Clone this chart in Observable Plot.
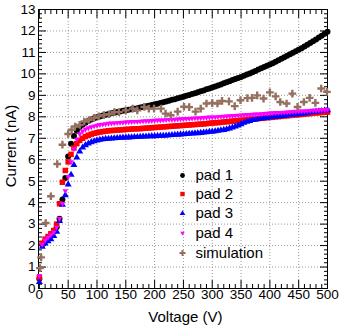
<!DOCTYPE html>
<html><head><meta charset="utf-8">
<script src="https://cdn.jsdelivr.net/npm/d3@7"></script>
<script src="https://cdn.jsdelivr.net/npm/@observablehq/plot@0.6"></script>
<style>body{margin:0;background:#fff;} #chart{width:339px;height:329px;}</style>
</head><body><div id="chart"></div>
<script>
// Pad measurements: voltage grid (V) and currents (nA)
const voltage = [0,5,10,15,20,25,30,35,40,45,50,55,60,65,70,75,80,85,90,95,100,105,110,115,120,125,130,135,140,145,150,155,160,165,170,175,180,185,190,195,200,205,210,215,220,225,230,235,240,245,250,255,260,265,270,275,280,285,290,295,300,305,310,315,320,325,330,335,340,345,350,355,360,365,370,375,380,385,390,395,400,405,410,415,420,425,430,435,440,445,450,455,460,465,470,475,480,485,490,495,500];

const pad1 = [0.45,2.05,2.2,2.35,2.5,2.65,2.85,3.25,4.15,5.15,6.15,6.75,7.1,7.35,7.52,7.63,7.72,7.8,7.87,7.93,7.98,8.02,8.06,8.1,8.13,8.16,8.19,8.22,8.25,8.28,8.3,8.33,8.35,8.38,8.4,8.43,8.46,8.49,8.52,8.55,8.58,8.61,8.64,8.68,8.71,8.75,8.79,8.82,8.86,8.9,8.94,8.98,9.02,9.06,9.1,9.14,9.19,9.23,9.28,9.32,9.37,9.41,9.46,9.51,9.56,9.61,9.66,9.71,9.76,9.81,9.86,9.91,9.97,10.02,10.08,10.14,10.2,10.26,10.32,10.38,10.44,10.5,10.57,10.63,10.7,10.77,10.84,10.91,10.98,11.05,11.12,11.2,11.28,11.36,11.44,11.52,11.6,11.69,11.78,11.87,11.96];

const pad2 = [0.5,2.1,2.3,2.42,2.55,2.7,3.0,3.95,4.95,5.5,5.9,6.25,6.55,6.75,6.9,7.0,7.08,7.14,7.19,7.23,7.26,7.29,7.31,7.33,7.35,7.36,7.37,7.38,7.39,7.4,7.41,7.42,7.43,7.44,7.44,7.45,7.46,7.47,7.48,7.49,7.5,7.51,7.52,7.53,7.54,7.55,7.56,7.57,7.58,7.59,7.6,7.61,7.62,7.63,7.64,7.65,7.66,7.67,7.68,7.7,7.71,7.72,7.73,7.74,7.76,7.77,7.78,7.8,7.81,7.82,7.84,7.85,7.86,7.88,7.89,7.9,7.92,7.93,7.94,7.96,7.97,7.98,8.0,8.01,8.02,8.04,8.05,8.06,8.08,8.09,8.1,8.11,8.13,8.14,8.15,8.17,8.18,8.19,8.2,8.21,8.22];

const pad3 = [0.3,1.95,2.1,2.2,2.3,2.45,2.65,3.15,3.9,4.35,4.85,5.3,5.75,6.1,6.38,6.57,6.68,6.76,6.82,6.86,6.9,6.93,6.95,6.97,6.98,6.99,7.0,7.01,7.02,7.03,7.04,7.04,7.05,7.06,7.06,7.07,7.08,7.08,7.09,7.1,7.1,7.11,7.12,7.12,7.13,7.14,7.15,7.16,7.17,7.18,7.19,7.2,7.21,7.22,7.23,7.24,7.25,7.27,7.28,7.3,7.31,7.33,7.35,7.37,7.39,7.42,7.46,7.5,7.55,7.6,7.66,7.72,7.77,7.81,7.85,7.88,7.9,7.92,7.94,7.96,7.98,7.99,8.01,8.02,8.04,8.05,8.07,8.08,8.1,8.11,8.13,8.14,8.16,8.18,8.2,8.22,8.24,8.26,8.27,8.29,8.31];

const pad4 = [0.6,2.05,2.25,2.38,2.5,2.62,2.85,3.25,3.95,4.55,5.2,5.9,6.5,6.95,7.2,7.33,7.42,7.48,7.53,7.57,7.6,7.63,7.65,7.67,7.69,7.7,7.71,7.72,7.73,7.74,7.75,7.76,7.77,7.78,7.78,7.79,7.8,7.81,7.81,7.82,7.83,7.84,7.84,7.85,7.86,7.87,7.87,7.88,7.89,7.9,7.9,7.91,7.92,7.93,7.94,7.94,7.95,7.96,7.97,7.98,7.98,7.99,8.0,8.01,8.02,8.03,8.04,8.05,8.06,8.07,8.08,8.09,8.1,8.1,8.11,8.12,8.13,8.14,8.15,8.16,8.17,8.18,8.19,8.2,8.2,8.21,8.22,8.23,8.24,8.25,8.26,8.26,8.27,8.28,8.29,8.3,8.3,8.31,8.32,8.33,8.34];

// Simulation
const simVoltage = [1,3,11,20,31,40,50,56,62,70,78,86,95,103,112,121,130,138,150,162,170,182,190,199,211,219,228,240,251,260,271,280,290,300,309,317,329,339,349,361,369,378,389,400,410,418,429,439,448,459,469,479,489,499];
const simCurrent = [0.95,1.45,3.05,4.3,5.8,6.7,7.2,7.4,7.55,7.62,7.78,7.85,7.95,8.02,8.08,8.12,8.22,8.22,8.3,8.38,8.3,8.46,8.38,8.38,8.38,8.15,8.07,8.24,8.47,8.45,8.24,8.38,8.62,8.64,8.62,8.74,8.72,8.5,8.77,8.87,8.88,9.0,8.85,9.14,8.95,8.69,8.62,9.08,8.46,8.69,8.88,8.65,9.32,9.16];

// Axis ticks
const xTicks = [0,50,100,150,200,250,300,350,400,450,500];
const yTicks = [0,1,2,3,4,5,6,7,8,9,10,11,12,13];
const xMinor = d3.range(0, 501, 10).filter(v => v % 50 !== 0);
const yMinor = d3.range(0, 65).map(i => i / 5).filter(v => Math.abs(v - Math.round(v)) > 1e-6);

const seriesNames = ["pad 1", "pad 2", "pad 3", "pad 4", "simulation"];
const seriesColors = ["#000000", "#ff0000", "#0000ff", "#ff00ff", "#957060"];

const padStyles = [
  {symbol: "circle", r: 3.0, rotate: 0},
  {symbol: "square", r: 3.1, rotate: 0},
  {symbol: "triangle", r: 2.6, rotate: 0},
  {symbol: "triangle", r: 2.1, rotate: 180}
];
const padValues = [pad1, pad2, pad3, pad4];
const padData = padValues.map(vals => voltage.map((v, i) => ({V: v, I: vals[i]})));
const simData = simVoltage.map((v, i) => ({V: v, I: simCurrent[i]}));

const font = "'Liberation Sans', Arial, Helvetica, sans-serif";
const gridStyle = {stroke: "#999999", strokeOpacity: 1, strokeDasharray: "1,2", strokeWidth: 1};

const marks = [
  Plot.gridX(xTicks.slice(1, -1), gridStyle),
  Plot.gridY(yTicks.slice(1, -1), gridStyle),
  // inward ticks on all four sides
  Plot.axisX(xTicks, {anchor: "bottom", tickSize: 8, dy: -8, fill: "none"}),
  Plot.axisX(xMinor, {anchor: "bottom", tickSize: 4, dy: -4, fill: "none"}),
  Plot.axisX(xTicks, {anchor: "top", tickSize: 8, dy: 8, fill: "none"}),
  Plot.axisX(xMinor, {anchor: "top", tickSize: 4, dy: 4, fill: "none"}),
  Plot.axisY(yTicks, {anchor: "left", tickSize: 8, dx: 8, fill: "none"}),
  Plot.axisY(yMinor, {anchor: "left", tickSize: 4, dx: 4, fill: "none"}),
  Plot.axisY(yTicks, {anchor: "right", tickSize: 8, dx: -8, fill: "none"}),
  Plot.axisY(yMinor, {anchor: "right", tickSize: 4, dx: -4, fill: "none"}),
  // tick labels
  Plot.axisX(xTicks, {anchor: "bottom", tickSize: 0, tickPadding: 1, stroke: "none", label: null, fontSize: 13.5, fill: "#000"}),
  Plot.axisY(yTicks, {anchor: "left", tickSize: 0, tickPadding: 3, stroke: "none", label: null, fontSize: 13.5, fill: "#000"}),
  Plot.frame({stroke: "#000", strokeWidth: 1})
];

padData.forEach((data, k) => {
  const st = padStyles[k];
  marks.push(Plot.dot(data, {x: "V", y: "I", symbol: st.symbol, r: st.r, rotate: st.rotate, fill: seriesColors[k], stroke: "none"}));
});
marks.push(Plot.dot(simData, {x: "V", y: "I", symbol: "plus", r: 2.6, stroke: seriesColors[4], strokeWidth: 2.4}));

// Axis titles
marks.push(Plot.text(["Current (nA)"], {text: d => d, frameAnchor: "left", dx: -27, dy: -3, rotate: -90, fontSize: 15, textAnchor: "middle", lineAnchor: "middle", fill: "#000"}));
marks.push(Plot.text(["Voltage (V)"], {text: d => d, frameAnchor: "bottom-right", dx: -105, dy: 29, fontSize: 15, textAnchor: "end", lineAnchor: "middle", fill: "#000"}));

// Legend
const legendTop = [166, 184.5, 204, 223.5, 243.5];
seriesNames.forEach((name, k) => {
  if (k < 4) {
    const st = padStyles[k];
    marks.push(Plot.dot([name], {frameAnchor: "top-left", dx: 144, dy: legendTop[k], symbol: st.symbol, r: st.r * 0.8, rotate: st.rotate, fill: seriesColors[k], stroke: "none"}));
  } else {
    marks.push(Plot.dot([name], {frameAnchor: "top-left", dx: 144, dy: legendTop[k], symbol: "plus", r: 2.1, stroke: seriesColors[k], strokeWidth: 2}));
  }
  marks.push(Plot.text([name], {text: d => d, frameAnchor: "top-left", dx: 157, dy: legendTop[k], fontSize: 15, textAnchor: "start", lineAnchor: "middle", fill: "#000"}));
});

const chart = Plot.plot({
  width: 339,
  height: 329,
  marginLeft: 38,
  marginRight: 12,
  marginTop: 9,
  marginBottom: 41,
  x: {domain: [-1.5, 500]},
  y: {domain: [0, 13]},
  style: {fontFamily: font, background: "#fff", color: "#000", overflow: "visible"},
  marks
});
document.getElementById("chart").appendChild(chart);
</script>
</body></html>
